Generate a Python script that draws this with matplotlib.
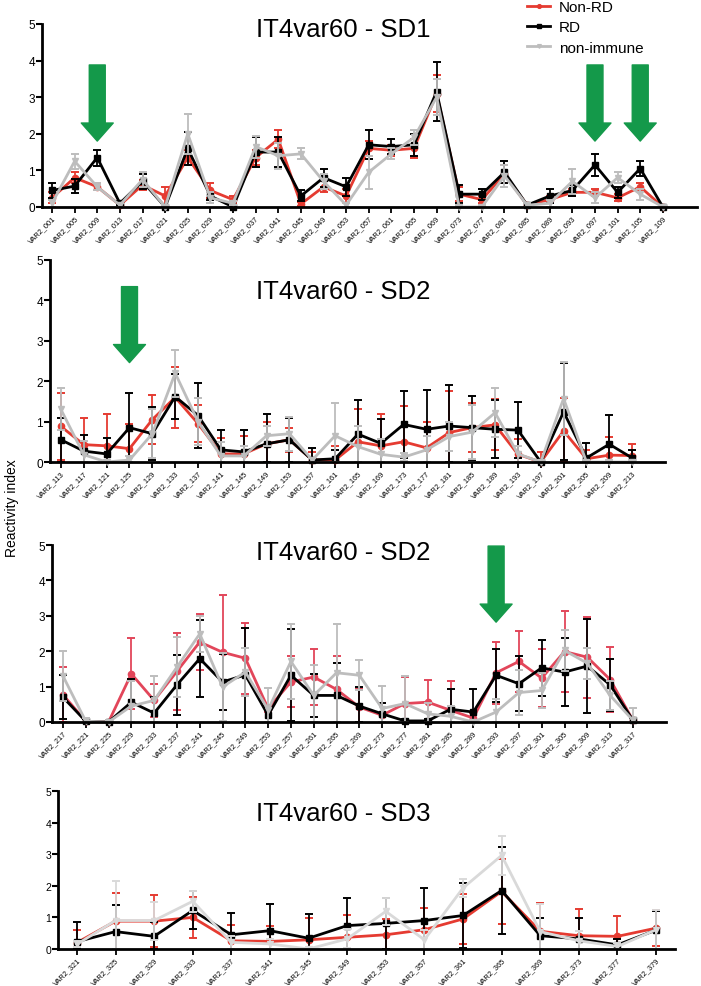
import numpy as np
import matplotlib
matplotlib.use("Agg")
import matplotlib.pyplot as plt

plt.rcParams['font.family'] = ['Liberation Sans', 'DejaVu Sans']

GREEN = '#14994a'

# ---- panel 1 : SD1 ----
ids_sd1 = list(range(1, 110, 4))
nonrd_sd1 = [0.25, 0.8, 0.55, 0.05, 0.6, 0.3, 1.35, 0.45, 0.2, 1.35, 1.85, 0.08, 0.55, 0.3,
             1.6, 1.55, 1.6, 3.1, 0.35, 0.2, 0.9, 0.05, 0.2, 0.4, 0.4, 0.25, 0.55, 0.0]
rd_sd1 = [0.45, 0.57, 1.35, 0.1, 0.7, 0.0, 1.6, 0.3, 0.0, 1.5, 1.5, 0.3, 0.8, 0.55,
          1.7, 1.65, 1.7, 3.15, 0.35, 0.35, 0.95, 0.05, 0.3, 0.45, 1.15, 0.4, 1.05, 0.0]
ni_sd1 = [0.1, 1.25, 0.55, 0.05, 0.75, 0.0, 2.0, 0.25, 0.1, 1.65, 1.4, 1.45, 0.7, 0.05,
          0.95, 1.45, 1.9, 3.0, 0.0, 0.0, 0.85, 0.05, 0.1, 0.7, 0.25, 0.8, 0.35, 0.0]
nonrd_sd1_err = [0.15, 0.15, 0.1, 0.05, 0.15, 0.25, 0.2, 0.2, 0.1, 0.2, 0.25, 0.05, 0.15, 0.2,
                 0.2, 0.15, 0.25, 0.5, 0.2, 0.1, 0.25, 0.05, 0.1, 0.1, 0.1, 0.1, 0.1, 0.05]
rd_sd1_err = [0.2, 0.2, 0.22, 0.05, 0.2, 0.05, 0.45, 0.1, 0.05, 0.4, 0.4, 0.15, 0.25, 0.25,
              0.4, 0.2, 0.3, 0.8, 0.25, 0.15, 0.3, 0.05, 0.2, 0.15, 0.3, 0.15, 0.2, 0.05]
ni_sd1_err = [0.1, 0.2, 0.1, 0.05, 0.2, 0.05, 0.55, 0.15, 0.05, 0.3, 0.35, 0.15, 0.2, 0.05,
              0.45, 0.15, 0.2, 0.5, 0.05, 0.05, 0.3, 0.05, 0.1, 0.35, 0.15, 0.15, 0.15, 0.05]

# ---- panel 2 : SD2 (first) ----
ids_sd2a = list(range(113, 214, 4))
nonrd_sd2a = [0.88, 0.43, 0.4, 0.33, 1.05, 1.6, 0.95, 0.2, 0.2, 0.45, 0.55, 0.05, 0.05,
              0.5, 0.4, 0.5, 0.35, 0.73, 0.85, 0.92, 0.19, 0.0, 0.77, 0.08, 0.17, 0.16]
rd_sd2a = [0.55, 0.27, 0.2, 0.85, 0.7, 1.62, 1.15, 0.3, 0.25, 0.45, 0.55, 0.05, 0.08,
           0.69, 0.46, 0.93, 0.81, 0.89, 0.85, 0.81, 0.79, 0.0, 1.24, 0.1, 0.44, 0.1]
ni_sd2a = [1.3, 0.18, 0.0, 0.05, 0.7, 2.2, 1.0, 0.15, 0.15, 0.65, 0.7, 0.05, 0.65,
           0.38, 0.19, 0.12, 0.3, 0.63, 0.74, 1.22, 0.2, 0.0, 1.57, 0.0, 0.0, 0.0]
nonrd_sd2a_err = [0.84, 0.67, 0.8, 0.62, 0.6, 0.75, 0.45, 0.4, 0.45, 0.53, 0.3, 0.2, 0.35,
                  0.82, 0.8, 0.89, 0.64, 1.02, 0.6, 0.63, 0.37, 0.25, 0.82, 0.22, 0.45, 0.28]
rd_sd2a_err = [0.55, 0.4, 0.4, 0.85, 0.65, 0.55, 0.8, 0.5, 0.55, 0.75, 0.55, 0.3, 0.22,
               0.85, 0.6, 0.83, 0.98, 1.02, 0.79, 0.72, 0.7, 0.05, 1.2, 0.38, 0.72, 0.19]
ni_sd2a_err = [0.52, 0.35, 0.05, 0.1, 0.6, 0.58, 0.58, 0.35, 0.25, 0.25, 0.42, 0.05, 0.82,
               0.5, 0.39, 0.1, 0.34, 0.37, 0.66, 0.61, 0.2, 0.05, 0.91, 0.05, 0.05, 0.05]

# ---- panel 3 : SD2 (second) ----
ids_sd2b = list(range(217, 318, 4))
nonrd_sd2b = [0.77, 0.02, 0.0, 1.36, 0.61, 1.43, 2.26, 1.97, 1.8, 0.38, 1.13, 1.27, 0.92,
              0.42, 0.19, 0.52, 0.56, 0.33, 0.11, 1.39, 1.71, 1.24, 1.99, 1.83, 1.2, 0.05]
rd_sd2b = [0.7, 0.02, 0.0, 0.56, 0.25, 1.05, 1.79, 1.13, 1.33, 0.19, 1.32, 0.75, 0.75,
           0.45, 0.23, 0.03, 0.03, 0.36, 0.28, 1.32, 1.08, 1.53, 1.41, 1.58, 1.05, 0.05]
ni_sd2b = [1.3, 0.02, 0.0, 0.45, 0.61, 1.55, 2.49, 0.99, 1.41, 0.35, 1.71, 0.75, 1.39,
           1.32, 0.38, 0.52, 0.23, 0.16, 0.0, 0.28, 0.83, 0.89, 2.02, 1.66, 0.75, 0.05]
nonrd_sd2b_err = [0.79, 0.05, 0.05, 1.0, 0.46, 1.09, 0.8, 1.63, 1.0, 0.1, 0.72, 0.8, 0.95,
                  0.5, 0.35, 0.75, 0.64, 0.84, 0.15, 0.87, 0.85, 0.83, 1.14, 1.15, 0.93, 0.05]
rd_sd2b_err = [0.62, 0.05, 0.05, 0.65, 0.45, 0.85, 1.08, 0.8, 1.32, 0.2, 1.3, 0.6, 0.92,
               0.55, 0.3, 0.05, 0.05, 0.58, 0.66, 0.75, 0.77, 0.8, 0.96, 1.33, 0.74, 0.05]
ni_sd2b_err = [0.7, 0.08, 0.05, 0.7, 0.69, 0.85, 0.51, 0.95, 0.67, 0.6, 1.07, 0.85, 1.39,
               0.43, 0.65, 0.78, 0.3, 0.3, 0.05, 0.38, 0.64, 0.5, 0.58, 0.44, 0.42, 0.35]

# ---- panel 4 : SD3 ----
ids_sd3 = list(range(321, 378, 4)) + [379]
nonrd_sd3 = [0.2, 0.88, 0.88, 1.0, 0.26, 0.24, 0.29, 0.37, 0.45, 0.61, 0.95, 1.82, 0.56, 0.42, 0.4, 0.66]
rd_sd3 = [0.23, 0.55, 0.4, 1.22, 0.45, 0.58, 0.34, 0.74, 0.81, 0.9, 1.06, 1.85, 0.42, 0.32, 0.13, 0.6]
ni_sd3 = [0.15, 0.9, 0.9, 1.51, 0.21, 0.16, 0.0, 0.32, 1.19, 0.29, 1.93, 2.96, 0.55, 0.26, 0.08, 0.61]
nonrd_sd3_err = [0.4, 0.88, 0.82, 0.65, 0.5, 0.5, 0.7, 0.7, 0.5, 0.7, 0.8, 1.03, 0.9, 0.84, 0.64, 0.58]
rd_sd3_err = [0.62, 0.85, 0.45, 0.6, 0.68, 0.84, 0.78, 0.86, 0.81, 1.03, 1.03, 1.37, 0.55, 0.65, 0.19, 0.6]
ni_sd3_err = [0.1, 1.25, 0.6, 0.34, 0.2, 0.15, 0.05, 0.3, 0.43, 0.3, 0.29, 0.63, 0.86, 0.3, 0.1, 0.63]

# panel layout: rect, xlim padding, title y (figure fraction), arrows (id, top, tip), colours
panels = [
    dict(title='IT4var60 - SD1', ids=ids_sd1, rect=[0.060, 0.7893, 0.934, 0.1854],
         xpad=(0.44, 1.5), ty=0.9696, arrows=[(9, 3.88, 1.8), (97, 3.88, 1.8), (105, 3.88, 1.8)],
         data=[(nonrd_sd1, nonrd_sd1_err), (rd_sd1, rd_sd1_err), (ni_sd1, ni_sd1_err)],
         red='#e53b31', gray='#bdbdbd', lfs=5.3, yfs=8.5),
    dict(title='IT4var60 - SD2', ids=ids_sd2a, rect=[0.0713, 0.5309, 0.8774, 0.2047],
         xpad=(0.48, 1.44), ty=0.7041, arrows=[(125, 4.34, 2.46)],
         data=[(nonrd_sd2a, nonrd_sd2a_err), (rd_sd2a, rd_sd2a_err), (ni_sd2a, ni_sd2a_err)],
         red='#e53b31', gray='#bdbdbd', lfs=5.3, yfs=8.5),
    dict(title='IT4var60 - SD2', ids=ids_sd2b, rect=[0.0742, 0.2675, 0.8758, 0.1793],
         xpad=(0.48, 1.45), ty=0.4397, arrows=[(293, 4.97, 2.82)],
         data=[(nonrd_sd2b, nonrd_sd2b_err), (rd_sd2b, rd_sd2b_err), (ni_sd2b, ni_sd2b_err)],
         red='#e2465a', gray='#bdbdbd', lfs=5.3, yfs=8.5),
    dict(title='IT4var60 - SD3', ids=ids_sd3, rect=[0.0827, 0.0375, 0.8802, 0.1601],
         xpad=(0.49, 0.49), ty=0.1753, arrows=[],
         data=[(nonrd_sd3, nonrd_sd3_err), (rd_sd3, rd_sd3_err), (ni_sd3, ni_sd3_err)],
         red='#e53b31', gray='#d9d9d9', lfs=5.3, yfs=7.5),
]

fig = plt.figure(figsize=(7.01, 9.87), dpi=100)

names = ['Non-RD', 'RD', 'non-immune']
handles = []
for p in panels:
    ax = fig.add_axes(p['rect'])
    x = np.arange(len(p['ids']))
    styles = [(p['red'], 'o'), ('black', 's'), (p['gray'], 'v')]
    hs = []
    for (vals, err), (col, mk) in zip(p['data'], styles):
        vals = np.array(vals)
        err = np.array(err)
        low = np.minimum(err, vals)
        ax.errorbar(x, vals, yerr=[low, err], color=col, ecolor=col, elinewidth=1.3,
                    capsize=3, capthick=1.4, fmt='none')
        h, = ax.plot(x, vals, color=col, lw=2.0, marker=mk, ms=4.5, clip_on=False)
        hs.append(h)
    handles = hs if not handles else handles

    ax.set_xlim(-p['xpad'][0], len(x) - 1 + p['xpad'][1])
    ax.set_ylim(0, 5)
    ax.set_yticks(range(6))
    ax.set_xticks(x)
    ax.set_xticklabels(['VAR2_%03d' % i for i in p['ids']], rotation=45, ha='right',
                       va='top', rotation_mode='anchor', fontsize=p['lfs'])
    ax.tick_params(axis='y', labelsize=p['yfs'], width=1.5, length=4, pad=1)
    ax.tick_params(axis='x', width=1.3, length=4, pad=1.5)
    for s in ['top', 'right']:
        ax.spines[s].set_visible(False)
    for s in ['left', 'bottom']:
        ax.spines[s].set_linewidth(2.0)

    for aid, top, tip in p['arrows']:
        xi = p['ids'].index(aid)
        ax.annotate('', xy=(xi, tip), xytext=(xi, top),
                    arrowprops=dict(arrowstyle='simple,head_length=1.3,head_width=2.3,tail_width=1.15',
                                    mutation_scale=10, color=GREEN, shrinkA=0, shrinkB=0))

    fig.text(0.489, p['ty'], p['title'], fontsize=18.5, ha='center', va='center')

fig.text(0.017, 0.4853, 'Reactivity index', rotation=90, fontsize=10, ha='center', va='center')

fig.legend(handles, names, loc='upper left', bbox_to_anchor=(0.752, 0.999), frameon=False,
           fontsize=11, handlelength=1.5, handletextpad=0.6, labelspacing=0.42, borderpad=0,
           borderaxespad=0, markerscale=0.6)

fig.savefig('out.png', dpi=100)
